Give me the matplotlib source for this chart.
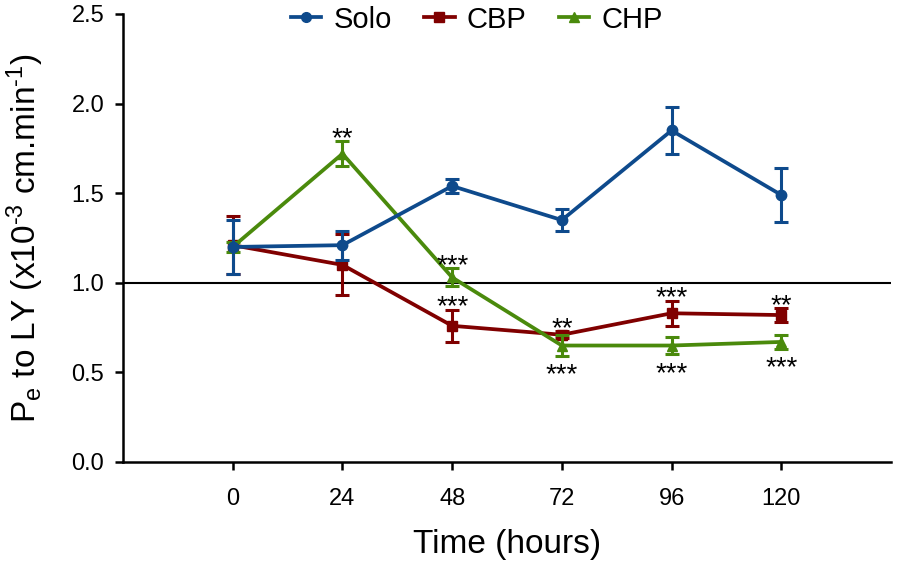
import matplotlib
matplotlib.use("Agg")
import matplotlib.pyplot as plt
from matplotlib.lines import Line2D

plt.rcParams['font.family'] = ['Liberation Sans', 'DejaVu Sans']
plt.rcParams['mathtext.fontset'] = 'custom'
plt.rcParams['mathtext.rm'] = 'Liberation Sans'
plt.rcParams['mathtext.it'] = 'Liberation Sans'
plt.rcParams['mathtext.bf'] = 'Liberation Sans'

hours = [0, 24, 48, 72, 96, 120]
series_names = ['Solo', 'CBP', 'CHP']
solo_mean = [1.20, 1.21, 1.54, 1.35, 1.85, 1.49]
solo_err = [0.15, 0.08, 0.04, 0.06, 0.13, 0.15]
cbp_mean = [1.21, 1.10, 0.76, 0.71, 0.83, 0.82]
cbp_err = [0.16, 0.17, 0.09, 0.02, 0.07, 0.04]
chp_mean = [1.20, 1.72, 1.03, 0.65, 0.65, 0.67]
chp_err = [0.03, 0.07, 0.05, 0.06, 0.05, 0.04]

# significance annotations: (series, hour, text, side)
annot_series = ['CHP', 'CHP', 'CBP', 'CBP', 'CHP', 'CBP', 'CHP', 'CBP', 'CHP']
annot_hour = [24, 48, 48, 72, 72, 96, 96, 120, 120]
annot_text = ['**', '***', '***', '**', '***', '***', '***', '**', '***']
annot_side = ['above', 'above', 'above', 'above', 'below', 'above', 'below', 'above', 'below']

x_ticks = [0, 24, 48, 72, 96, 120]
y_ticks = [0.0, 0.5, 1.0, 1.5, 2.0, 2.5]
reference_level = 1.0

colors = {'Solo': '#0E4A8C', 'CBP': '#800000', 'CHP': '#4A8A0C'}
markers = {'Solo': 'o', 'CBP': 's', 'CHP': '^'}
means = {'Solo': solo_mean, 'CBP': cbp_mean, 'CHP': chp_mean}
errs = {'Solo': solo_err, 'CBP': cbp_err, 'CHP': chp_err}
zorders = {'Solo': 5, 'CBP': 3, 'CHP': 4}

fig = plt.figure(figsize=(8.98, 5.74), dpi=100)
ax = fig.add_axes([123 / 898, 1 - 462 / 574, (891 - 123) / 898, (462 - 14) / 574])

ax.axhline(reference_level, color='black', lw=1.5, zorder=1)

handles = []
for name in series_names:
    ax.errorbar(hours, means[name], yerr=errs[name], color=colors[name],
                marker=markers[name], markersize=7.5, lw=2.7,
                elinewidth=2.2, capsize=5, capthick=2.2,
                zorder=zorders[name], label=name)
    handles.append(Line2D([], [], color=colors[name], marker=markers[name],
                          markersize=7, lw=2.7))

for s, h, t, side in zip(annot_series, annot_hour, annot_text, annot_side):
    i = hours.index(h)
    if side == 'above':
        y = means[s][i] + errs[s][i]
        off = -3.5
    else:
        y = means[s][i] - errs[s][i]
        off = -19
    ax.annotate(t, xy=(h, y), xytext=(0, off), textcoords='offset points',
                ha='center', va='baseline', fontsize=20, color='black', zorder=10)

ax.set_xlim(-24, 144)
ax.set_ylim(0, 2.5)
ax.set_xticks(x_ticks)
ax.set_yticks(y_ticks)
ax.set_yticklabels([f'{v:.1f}' for v in y_ticks])
ax.spines['top'].set_visible(False)
ax.spines['right'].set_visible(False)
ax.spines['left'].set_linewidth(1.8)
ax.spines['bottom'].set_linewidth(1.8)
ax.tick_params(axis='both', width=1.8, length=5.5, labelsize=17, color='black')
ax.tick_params(axis='x', pad=13)
ax.tick_params(axis='y', pad=8)

ax.set_xlabel('Time (hours)', fontsize=24, labelpad=14)
ax.set_ylabel('P$_{\\mathregular{e}}$ to LY (x10$^{\\mathregular{\u20103}}$ cm.min$^{\\mathregular{\u20101}}$)',
              fontsize=24, labelpad=18)

fig.legend(handles=handles, labels=series_names, loc='center', bbox_to_anchor=(0.531, 0.966),
           ncol=3, frameon=False, fontsize=21, handlelength=1.05, handletextpad=0.42,
           columnspacing=1.1, borderaxespad=0)

fig.savefig('out.png', dpi=100)
